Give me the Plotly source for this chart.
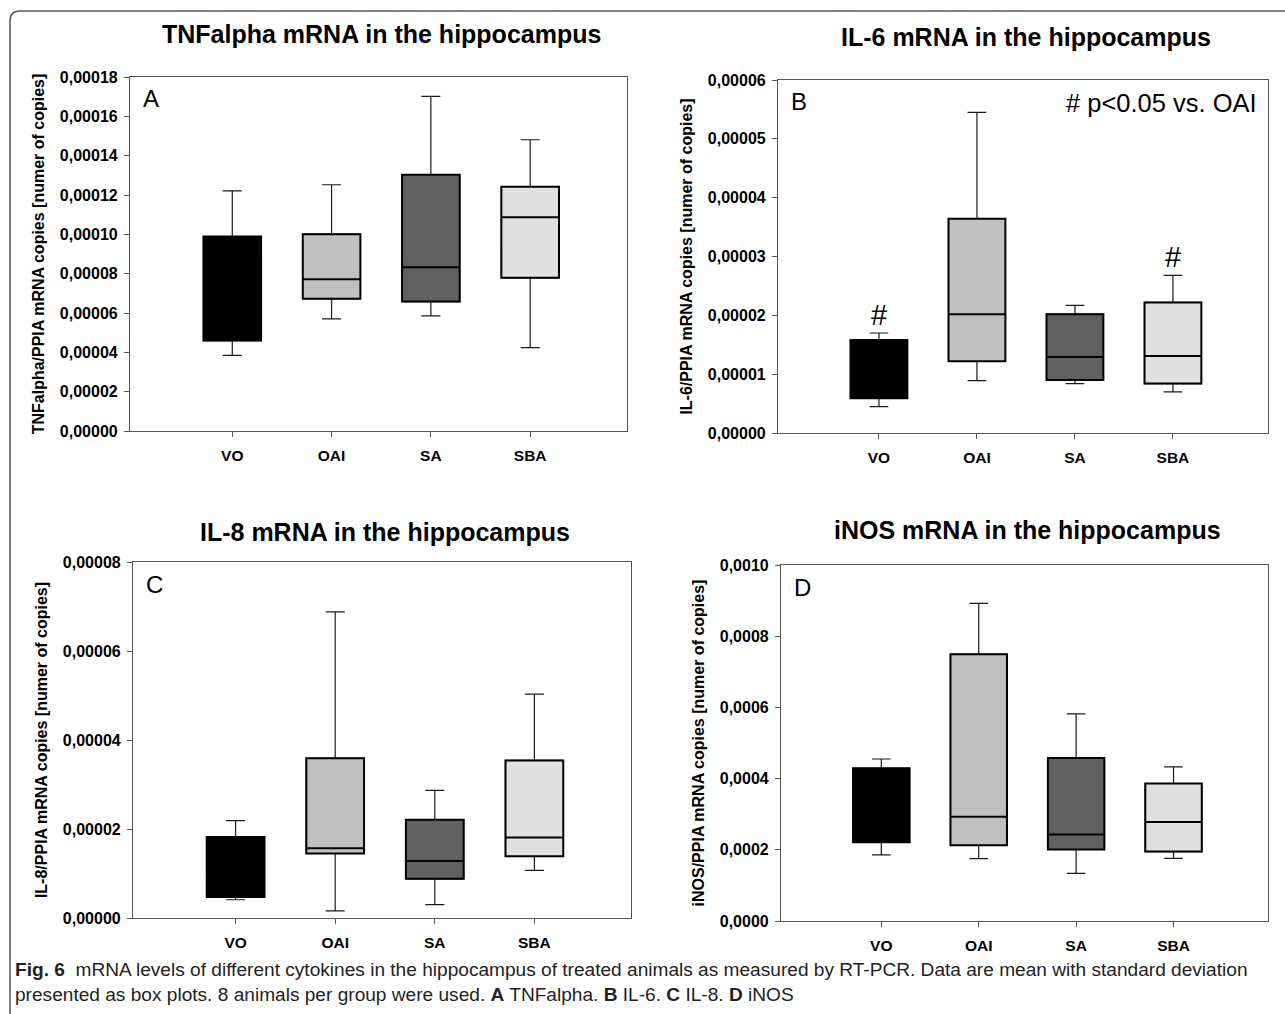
import plotly.graph_objects as go

W, H = 1285, 1014

categories = ["VO", "OAI", "SA", "SBA"]
fill_colors = ["#000000", "#c0c0c0", "#606060", "#e0e0e0"]

# Panel A: TNFalpha
tnf_low = [0.0000385, 0.0000570, 0.0000585, 0.0000424]
tnf_q1 = [0.0000460, 0.0000673, 0.0000658, 0.0000779]
tnf_med = [0.0000700, 0.0000772, 0.0000833, 0.0001087]
tnf_q3 = [0.0000989, 0.0001001, 0.0001303, 0.0001242]
tnf_high = [0.0001221, 0.0001252, 0.0001701, 0.0001481]

# Panel B: IL-6
il6_low = [0.0000045, 0.0000089, 0.0000084, 0.0000070]
il6_q1 = [0.0000059, 0.0000122, 0.0000090, 0.0000084]
il6_med = [0.0000100, 0.0000202, 0.0000129, 0.0000131]
il6_q3 = [0.0000158, 0.0000364, 0.0000202, 0.0000222]
il6_high = [0.0000170, 0.0000545, 0.0000217, 0.0000268]
il6_sig = ["#", "", "", "#"]

# Panel C: IL-8
il8_low = [0.0000041, 0.0000016, 0.0000030, 0.0000107]
il8_q1 = [0.0000047, 0.0000145, 0.0000088, 0.0000139]
il8_med = [0.0000100, 0.0000157, 0.0000128, 0.0000181]
il8_q3 = [0.0000182, 0.0000359, 0.0000221, 0.0000354]
il8_high = [0.0000219, 0.0000688, 0.0000287, 0.0000503]

# Panel D: iNOS
inos_low = [0.000186, 0.000175, 0.000134, 0.000176]
inos_q1 = [0.000221, 0.000213, 0.000201, 0.000195]
inos_med = [0.000300, 0.000293, 0.000243, 0.000278]
inos_q3 = [0.000429, 0.000749, 0.000458, 0.000386]
inos_high = [0.000455, 0.000892, 0.000582, 0.000433]

panels = [
    dict(title="TNFalpha mRNA in the hippocampus", ytitle="TNFalpha/PPIA mRNA copies [numer of copies]",
         letter="A", low=tnf_low, q1=tnf_q1, med=tnf_med, q3=tnf_q3, high=tnf_high,
         yrange=[0, 0.00018], dtick=0.00002, fmt=".5f",
         box=(130, 626.5, 77, 431), title_y=34),
    dict(title="IL-6 mRNA in the hippocampus", ytitle="IL-6/PPIA mRNA copies [numer of copies]",
         letter="B", low=il6_low, q1=il6_q1, med=il6_med, q3=il6_q3, high=il6_high,
         yrange=[0, 0.00006], dtick=0.00001, fmt=".5f",
         box=(778, 1268, 80, 433), title_y=37),
    dict(title="IL-8 mRNA in the hippocampus", ytitle="IL-8/PPIA mRNA copies [numer of copies]",
         letter="C", low=il8_low, q1=il8_q1, med=il8_med, q3=il8_q3, high=il8_high,
         yrange=[0, 0.00008], dtick=0.00002, fmt=".5f",
         box=(133, 631, 562, 918), title_y=532),
    dict(title="iNOS mRNA in the hippocampus", ytitle="iNOS/PPIA mRNA copies [numer of copies]",
         letter="D", low=inos_low, q1=inos_q1, med=inos_med, q3=inos_q3, high=inos_high,
         yrange=[0, 0.0010], dtick=0.0002, fmt=".4f",
         box=(781, 1268, 565, 921), title_y=530),
]

def px(x):
    return x / W

def py(y):
    return 1 - y / H

FONT = "Liberation Sans, Arial, sans-serif"
AXC = "#555555"

fig = go.Figure()
annotations = []
layout_axes = {}

for i, p in enumerate(panels, start=1):
    xa = "x" if i == 1 else f"x{i}"
    ya = "y" if i == 1 else f"y{i}"
    for j, cat in enumerate(categories):
        # whiskers (thin)
        fig.add_trace(go.Box(
            x=[cat], q1=[p["q1"][j]], median=[p["med"][j]], q3=[p["q3"][j]],
            lowerfence=[p["low"][j]], upperfence=[p["high"][j]],
            fillcolor=fill_colors[j], line=dict(color="#1a1a1a", width=1.2),
            whiskerwidth=0.33, width=0.58, boxpoints=False, showlegend=False,
            xaxis=xa, yaxis=ya, hoverinfo="skip",
        ))
        # box body (thicker outline)
        fig.add_trace(go.Box(
            x=[cat], q1=[p["q1"][j]], median=[p["med"][j]], q3=[p["q3"][j]],
            lowerfence=[p["q1"][j]], upperfence=[p["q3"][j]],
            fillcolor=fill_colors[j], line=dict(color="#000000", width=2),
            whiskerwidth=0, width=0.58, boxpoints=False, showlegend=False,
            xaxis=xa, yaxis=ya, name=cat,
        ))
    x0, x1, y0, y1 = p["box"]
    layout_axes[f"xaxis{'' if i == 1 else i}"] = dict(
        domain=[px(x0), px(x1)], anchor=ya, type="category",
        categoryorder="array", categoryarray=categories,
        range=[-1.03, 3.97], showline=True, linecolor=AXC, linewidth=1.2,
        mirror=True, ticks="outside", ticklen=5, tickcolor=AXC, tickwidth=1,
        showgrid=False, zeroline=False, ticklabelstandoff=5, automargin=False,
        tickfont=dict(family=FONT, size=15.5, color="#000000", weight="bold"),
    )
    layout_axes[f"yaxis{'' if i == 1 else i}"] = dict(
        domain=[py(y1), py(y0)], anchor=xa, range=p["yrange"], dtick=p["dtick"],
        tick0=0, tickformat=p["fmt"], showline=True, linecolor=AXC, linewidth=1.2,
        mirror=True, ticks="outside", ticklen=5, tickcolor=AXC, tickwidth=1,
        showgrid=False, zeroline=False, ticklabelstandoff=3, automargin=False,
        tickfont=dict(family=FONT, size=16, color="#000000", weight="bold"),
        title=dict(text=p["ytitle"], standoff=11,
                   font=dict(family=FONT, size=16, color="#000000", weight="bold")),
    )
    # subplot title
    annotations.append(dict(
        text=p["title"], xref="paper", yref="paper", x=px((x0 + x1) / 2 + 3), y=py(p["title_y"]),
        xanchor="center", yanchor="middle", showarrow=False,
        font=dict(family=FONT, size=25, color="#000000", weight="bold"),
    ))
    # panel letter
    annotations.append(dict(
        text=p["letter"], xref="paper", yref="paper", x=px(x0 + 11), y=py(y0 + 22),
        xanchor="left", yanchor="middle", showarrow=False,
        font=dict(family=FONT, size=24, color="#000000"),
    ))

# significance markers in panel B
for j, cat in enumerate(categories):
    if il6_sig[j]:
        annotations.append(dict(
            text=il6_sig[j], xref="x2", yref="y2", x=cat, y=il6_high[j],
            xanchor="center", yanchor="bottom", showarrow=False, yshift=0,
            font=dict(family=FONT, size=29, color="#000000"),
        ))
annotations.append(dict(
    text="# p<0.05 vs. OAI", xref="paper", yref="paper", x=px(1259), y=py(102.5),
    xanchor="right", yanchor="middle", showarrow=False,
    font=dict(family=FONT, size=25.5, color="#000000"),
))

# caption
annotations.append(dict(
    text="<b>Fig. 6</b>  mRNA levels of different cytokines in the hippocampus of treated animals as measured by RT-PCR. Data are mean with standard deviation<br>"
         "presented as box plots. 8 animals per group were used. <b>A</b> TNFalpha. <b>B</b> IL-6. <b>C</b> IL-8. <b>D</b> iNOS",
    xref="paper", yref="paper", x=px(13), y=py(957), xanchor="left", yanchor="top",
    align="left", showarrow=False,
    font=dict(family=FONT, size=19.1, color="#222222"),
))

# outer rounded frame
r = 10
bx, by = 10, 11
path = (f"M {px(bx)},{py(H + 5)} L {px(bx)},{py(by + r)} "
        f"Q {px(bx)},{py(by)} {px(bx + r)},{py(by)} L {px(W + 5)},{py(by)}")

fig.update_layout(
    width=W, height=H, margin=dict(l=0, r=0, t=0, b=0, pad=0, autoexpand=False),
    paper_bgcolor="white", plot_bgcolor="white",
    separators=",.", boxmode="overlay", showlegend=False,
    annotations=annotations,
    shapes=[dict(type="path", path=path, xref="paper", yref="paper",
                 line=dict(color="#555555", width=1.5))],
    font=dict(family=FONT, color="#000000"),
    **layout_axes,
)

fig.write_html("out.html", config={"displayModeBar": False},
               post_script="document.body.style.margin='0';document.body.style.overflow='hidden';")
